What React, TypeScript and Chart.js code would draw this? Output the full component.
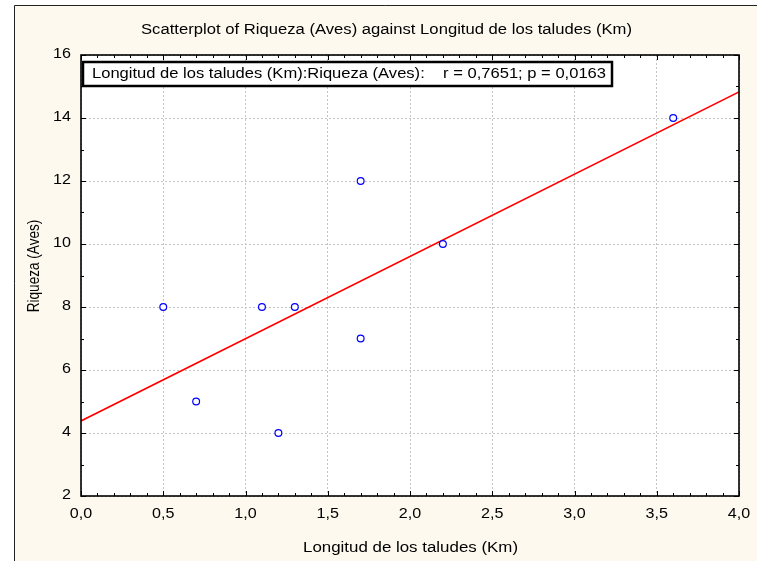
import React, { useEffect, useRef } from "react";
import { Chart, registerables } from "chart.js";

Chart.register(...registerables);

const longitud = [0.5, 0.7, 1.1, 1.2, 1.3, 1.7, 1.7, 2.2, 3.6];
const riqueza = [8, 5, 8, 4, 8, 12, 7, 10, 14];
const xTicks = [0, 0.5, 1, 1.5, 2, 2.5, 3, 3.5, 4];
const yTicks = [2, 4, 6, 8, 10, 12, 14, 16];
const titleText = "Scatterplot of Riqueza (Aves) against Longitud de los taludes (Km)";
const xTitle = "Longitud de los taludes (Km)";
const yTitle = "Riqueza (Aves)";
const legendText = "Longitud de los taludes (Km):Riqueza (Aves):    r = 0,7651; p = 0,0163";

const W = 757;
const H = 561;
const FONT = "14px 'Liberation Sans', Arial, sans-serif";
const STRETCH = 1.15;

function fitLine(xs: number[], ys: number[]) {
  const n = xs.length;
  const mx = xs.reduce((a, b) => a + b, 0) / n;
  const my = ys.reduce((a, b) => a + b, 0) / n;
  let sxy = 0, sxx = 0;
  for (let i = 0; i < n; i++) {
    sxy += (xs[i] - mx) * (ys[i] - my);
    sxx += (xs[i] - mx) * (xs[i] - mx);
  }
  const b = sxy / sxx;
  const a = my - b * mx;
  return { a, b };
}

function stretchText(ctx: CanvasRenderingContext2D, text: string, x: number, y: number, sx: number, align: string) {
  ctx.save();
  ctx.font = FONT;
  ctx.textBaseline = "middle";
  ctx.textAlign = align as CanvasTextAlign;
  ctx.translate(x, y);
  ctx.scale(sx, 1);
  ctx.fillText(text, 0, 0);
  ctx.restore();
}

function fitScale(ctx: CanvasRenderingContext2D, text: string, target: number) {
  ctx.save();
  ctx.font = FONT;
  const w = ctx.measureText(text).width;
  ctx.restore();
  return target / w;
}

export default function App() {
  const ref = useRef<HTMLCanvasElement | null>(null);
  useEffect(() => {
    document.body.style.margin = "0";
    const canvas = ref.current!;
    const { a, b } = fitLine(longitud, riqueza);
    const lineData = [
      { x: 0, y: a },
      { x: 4, y: a + b * 4 },
    ];
    const pts = longitud.map((x, i) => ({ x, y: riqueza[i] }));

    const decor = {
      id: "decor",
      beforeDraw(chart: any) {
        const ctx = chart.ctx;
        ctx.save();
        ctx.fillStyle = "#ffffff";
        ctx.fillRect(0, 0, W, H);
        ctx.fillStyle = "#fdf9ee";
        ctx.fillRect(14, 5, W - 14, H - 5);
        ctx.strokeStyle = "#222";
        ctx.lineWidth = 1;
        ctx.beginPath();
        ctx.moveTo(14.5, H);
        ctx.lineTo(14.5, 5.5);
        ctx.lineTo(W, 5.5);
        ctx.stroke();
        const ca = chart.chartArea;
        ctx.fillStyle = "#ffffff";
        ctx.fillRect(ca.left, ca.top, ca.right - ca.left, ca.bottom - ca.top);
        ctx.restore();
      },
      afterDraw(chart: any) {
        const ctx = chart.ctx as CanvasRenderingContext2D;
        const ca = chart.chartArea;
        const xs = chart.scales.x;
        const ys = chart.scales.y;
        ctx.save();
        ctx.strokeStyle = "#000";
        ctx.lineWidth = 1.6;
        ctx.strokeRect(ca.left, ca.top, ca.right - ca.left, ca.bottom - ca.top);
        ctx.lineWidth = 1;
        ctx.beginPath();
        for (let i = 0; i <= 40; i++) {
          const v = i / 10;
          const px = Math.round(xs.getPixelForValue(v)) + 0.5;
          const len = i % 5 === 0 ? 5 : 3;
          ctx.moveTo(px, ca.bottom);
          ctx.lineTo(px, ca.bottom - len);
          ctx.moveTo(px, ca.top);
          ctx.lineTo(px, ca.top + len);
        }
        for (let v = 2; v <= 16; v++) {
          const py = Math.round(ys.getPixelForValue(v)) + 0.5;
          const len = v % 2 === 0 ? 5 : 3;
          ctx.moveTo(ca.left, py);
          ctx.lineTo(ca.left + len, py);
          ctx.moveTo(ca.right, py);
          ctx.lineTo(ca.right - len, py);
        }
        ctx.stroke();
        ctx.fillStyle = "#000";
        xs.ticks.forEach((t: any) => {
          const label = Number(t.value).toFixed(1).replace(".", ",");
          stretchText(ctx, label, xs.getPixelForValue(t.value), 514, STRETCH, "center");
        });
        ys.ticks.forEach((t: any) => {
          stretchText(ctx, String(t.value), 71, ys.getPixelForValue(t.value) - 1, STRETCH, "right");
        });
        const bx = 83, by = 62, bw = 529, bh = 24;
        ctx.fillStyle = "#fff";
        ctx.fillRect(bx, by, bw, bh);
        ctx.lineWidth = 2.5;
        ctx.strokeStyle = "#000";
        ctx.strokeRect(bx, by, bw, bh);
        ctx.fillStyle = "#000";
        stretchText(ctx, legendText, 92, by + bh / 2, fitScale(ctx, legendText, 514), "left");
        stretchText(ctx, titleText, 141, 30.5, fitScale(ctx, titleText, 491), "left");
        stretchText(ctx, xTitle, 303, 548, fitScale(ctx, xTitle, 215), "left");
        ctx.save();
        ctx.font = FONT;
        ctx.textAlign = "center";
        ctx.textBaseline = "middle";
        ctx.translate(35, 266);
        ctx.rotate(-Math.PI / 2);
        ctx.scale(0.97, STRETCH);
        ctx.fillText(yTitle, 0, 0);
        ctx.restore();
        ctx.restore();
      },
    };

    const chart = new Chart(canvas, {
      type: "scatter",
      data: {
        datasets: [
          {
            type: "line",
            data: lineData,
            borderColor: "#ff0000",
            borderWidth: 1.6,
            pointRadius: 0,
            fill: false,
            order: 2,
          } as any,
          {
            data: pts,
            pointStyle: "circle",
            pointRadius: 3.4,
            pointBorderWidth: 1.2,
            pointBorderColor: "#0000ff",
            pointBackgroundColor: "#ffffff",
            order: 1,
          } as any,
        ],
      },
      options: {
        animation: false,
        responsive: false,
        devicePixelRatio: 1,
        layout: { padding: { left: 0, top: 55, right: W - 739, bottom: 0 } },
        plugins: {
          legend: { display: false },
          tooltip: { enabled: false },
          title: { display: false },
        },
        scales: {
          x: {
            type: "linear",
            min: 0,
            max: 4,
            afterBuildTicks: (s: any) => {
              s.ticks = xTicks.map((v) => ({ value: v }));
            },
            afterFit: (s: any) => {
              s.height = H - 496;
            },
            grid: { color: "#c4c4c4", lineWidth: 1, drawTicks: false },
            border: { display: false, dash: [2, 2] },
            ticks: { display: false },
          },
          y: {
            type: "linear",
            min: 2,
            max: 16,
            afterBuildTicks: (s: any) => {
              s.ticks = yTicks.map((v) => ({ value: v }));
            },
            afterFit: (s: any) => {
              s.width = 81;
            },
            grid: { color: "#c4c4c4", lineWidth: 1, drawTicks: false },
            border: { display: false, dash: [2, 2] },
            ticks: { display: false },
          },
        },
      },
      plugins: [decor],
    });
    return () => chart.destroy();
  }, []);
  return <canvas ref={ref} width={W} height={H} style={{ display: "block", width: W, height: H }} />;
}
